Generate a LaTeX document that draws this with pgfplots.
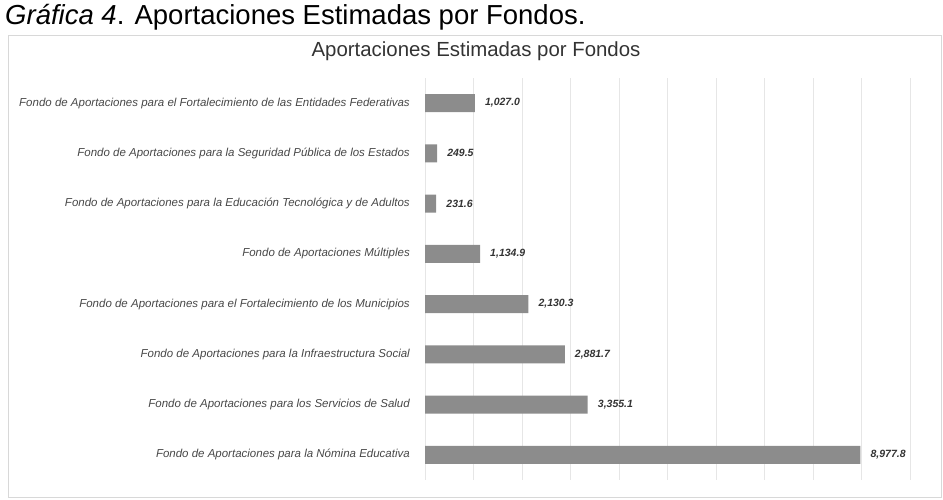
\documentclass[border=0pt]{standalone}
\usepackage{fontspec}
\setmainfont{Liberation Sans}
\usepackage{pgfplots}
\pgfplotsset{compat=1.18}
\usepackage{pgfplotstable}
\definecolor{bargray}{HTML}{8C8C8C}
\definecolor{gridgray}{HTML}{E6E6E6}
\definecolor{framegray}{HTML}{D8D8D8}
\pgfplotstableread{
idx value
0 8977.8
1 3355.1
2 2881.7
3 2130.3
4 1134.9
5 231.6
6 249.5
7 1027.0
}\datatable
\begin{document}
\begin{tikzpicture}[x=1bp,y=1bp]
\useasboundingbox (0,0) rectangle (943,500);
\draw[framegray, line width=0.8bp] (8,3) rectangle (941,465);
\node[anchor=base west, inner sep=0pt] at (5,475) {\fontsize{27.5bp}{31bp}\selectfont\textit{Gráfica 4}. Aportaciones Estimadas por Fondos.};
\node[anchor=base, inner sep=0pt] at (476,443) {\fontsize{20.4bp}{23bp}\selectfont\color{black!80}Aportaciones Estimadas por Fondos};
\begin{axis}[
  at={(425bp,20bp)}, anchor=south west, scale only axis,
  width=485bp, height=402bp,
  xbar, bar width=18bp,
  xmin=0, xmax=10000, ymin=-0.5, ymax=7.5,
  scaled x ticks=false,
  xtick={0,1000,...,10000}, xticklabels={},
  xmajorgrids, major grid style={draw=gridgray, line width=0.8bp},
  ytick={0,...,7},
  yticklabels={
    {Fondo de Aportaciones para la Nómina Educativa},
    {Fondo de Aportaciones para los Servicios de Salud},
    {Fondo de Aportaciones para la Infraestructura Social},
    {Fondo de Aportaciones para el Fortalecimiento de los Municipios},
    {Fondo de Aportaciones Múltiples},
    {Fondo de Aportaciones para la Educación Tecnológica y de Adultos},
    {Fondo de Aportaciones para la Seguridad Pública de los Estados},
    {Fondo de Aportaciones para el Fortalecimiento de las Entidades Federativas}},
  yticklabel style={font=\fontsize{11.5bp}{13bp}\selectfont\itshape, text=black!72, anchor=east, inner sep=0pt, xshift=-15bp},
  major tick length=0pt,
  axis line style={draw=none},
  tick style={draw=none},
  nodes near coords={\pgfmathprintnumber[fixed, fixed zerofill, precision=1, 1000 sep={,}, assume math mode=true]{\pgfplotspointmeta}},
  nodes near coords style={font=\fontsize{10.5bp}{12bp}\selectfont\bfseries\itshape, text=black!80, anchor=west, inner sep=0pt, xshift=10bp},
  clip=false,
]
\addplot[draw=none, fill=bargray] table[x=value, y=idx] {\datatable};
\end{axis}
\end{tikzpicture}
\end{document}
